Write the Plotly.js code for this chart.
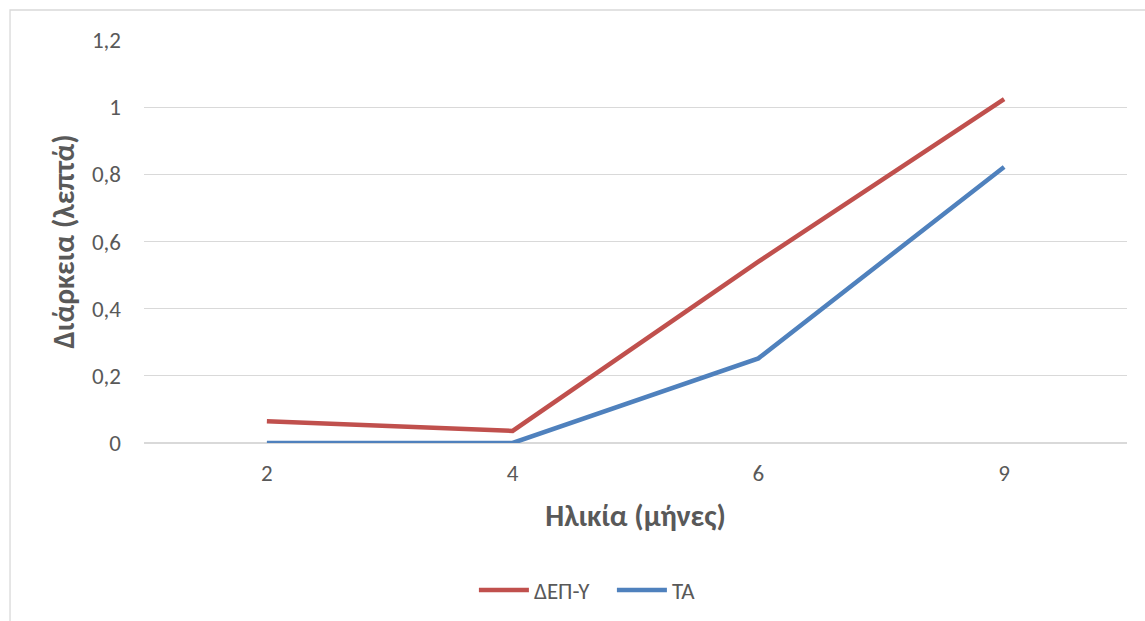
<!DOCTYPE html>
<html>
<head>
<meta charset="utf-8">
<script src="https://cdn.plot.ly/plotly-3.0.1.min.js"></script>
<style>
html,body{margin:0;padding:0;background:#fff;}
#chart{width:1145px;height:621px;}
</style>
</head>
<body>
<div id="chart"></div>
<script>
const ages = ["2", "4", "6", "9"];
const depY = [0.065, 0.036, 0.54, 1.024];
const ta = [0, 0, 0.252, 0.822];
const seriesNames = ["ΔΕΠ-Υ", "ΤΑ"];
const yTicks = [0, 0.2, 0.4, 0.6, 0.8, 1, 1.2];

const font = "Carlito, Calibri, 'Liberation Sans', 'Noto Sans', sans-serif";

const traces = [
  {x: ages, y: depY, name: seriesNames[0], type: "scatter", mode: "lines",
   line: {color: "#C0504D", width: 4.5}},
  {x: ages, y: ta, name: seriesNames[1], type: "scatter", mode: "lines",
   line: {color: "#4F81BD", width: 4.5}}
];

const layout = {
  width: 1145, height: 621,
  margin: {l: 144, r: 18, t: 40, b: 178, autoexpand: false},
  paper_bgcolor: "#fff", plot_bgcolor: "#fff",
  separators: ",.",
  font: {family: font, color: "#595959", size: 23},
  showlegend: true,
  legend: {orientation: "h", x: 0.476, xanchor: "center", y: -0.365, yanchor: "middle",
           font: {size: 23, color: "#595959"}, itemwidth: 50, entrywidth: 73,
           entrywidthmode: "pixels", traceorder: "normal"},
  xaxis: {
    type: "category", range: [-0.5, 3.5], showgrid: false, zeroline: false,
    showline: false, ticks: "", ticklabelstandoff: 14,
    tickfont: {size: 23, color: "#595959"},
    title: {text: "<b>Ηλικία (μήνες)</b>", font: {size: 30, color: "#595959"}, standoff: 18}
  },
  yaxis: {
    range: [0, 1.2], tickvals: yTicks, showgrid: true, gridcolor: "#D9D9D9", gridwidth: 1.3,
    zeroline: true, zerolinecolor: "#D9D9D9", zerolinewidth: 1.3, showline: false, ticks: "",
    ticklabelstandoff: 22, tickfont: {size: 23, color: "#595959"},
    title: {text: "<b>Διάρκεια (λεπτά)</b>", font: {size: 30, color: "#595959"}, standoff: 8}
  },
  shapes: [
    {type: "rect", xref: "paper", yref: "paper", x0: -0.1363, x1: 1.1, y0: -0.6, y1: 1.0744,
     line: {color: "#D9D9D9", width: 1.3}, fillcolor: "rgba(0,0,0,0)", layer: "below"}
  ]
};

Plotly.newPlot("chart", traces, layout, {displayModeBar: false, staticPlot: true});
</script>
</body>
</html>
